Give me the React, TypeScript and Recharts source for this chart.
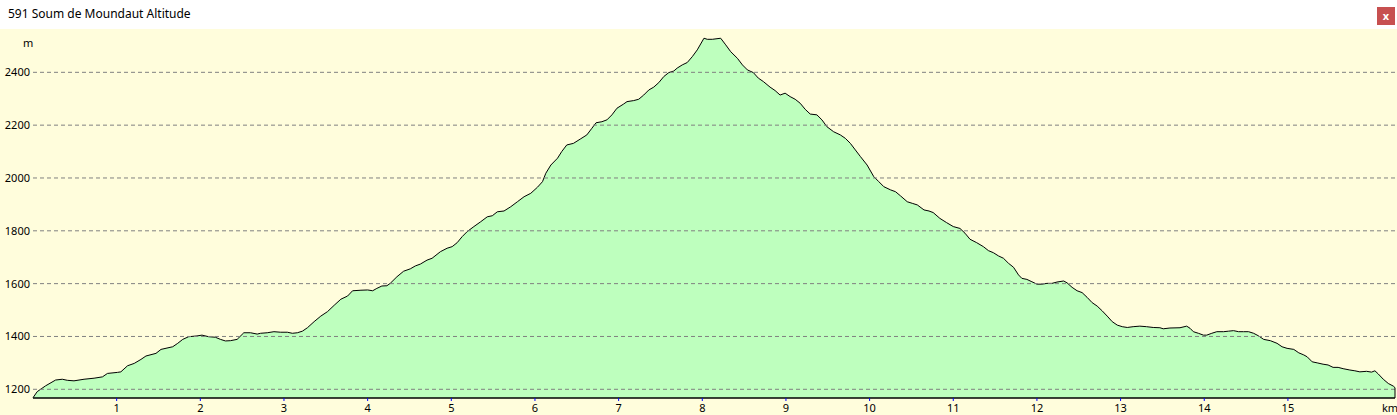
import { AreaChart, Area, XAxis, YAxis, ReferenceLine } from 'recharts';

const title = '591 Soum de Moundaut Altitude';

// distance along the track (km) and altitude (m)
const distanceKm = [
  0.0, 0.05, 0.15, 0.27, 0.35, 0.41, 0.49, 0.61, 0.73, 0.83, 0.89, 1.01, 1.05, 1.13, 1.21, 1.29, 1.35, 1.47, 1.53, 1.67,
  1.73, 1.79, 1.86, 1.96, 2.02, 2.1, 2.18, 2.24, 2.3, 2.36, 2.44, 2.52, 2.6, 2.68, 2.72, 2.8, 2.88, 2.96, 3.04, 3.1,
  3.16, 3.22, 3.28, 3.36, 3.44, 3.52, 3.6, 3.68, 3.76, 3.82, 3.92, 4.0, 4.06, 4.11, 4.17, 4.23, 4.27, 4.35, 4.43, 4.51,
  4.57, 4.63, 4.71, 4.77, 4.87, 4.95, 5.01, 5.07, 5.13, 5.19, 5.27, 5.35, 5.43, 5.49, 5.55, 5.63, 5.71, 5.79, 5.87, 5.95,
  6.03, 6.09, 6.13, 6.19, 6.27, 6.32, 6.38, 6.46, 6.54, 6.62, 6.68, 6.73, 6.8, 6.86, 6.92, 6.98, 7.06, 7.1, 7.18, 7.24,
  7.3, 7.36, 7.42, 7.48, 7.54, 7.6, 7.66, 7.7, 7.76, 7.82, 7.88, 7.94, 8.02, 8.06, 8.12, 8.22, 8.28, 8.34, 8.42, 8.48,
  8.54, 8.61, 8.67, 8.73, 8.81, 8.87, 8.93, 8.99, 9.05, 9.11, 9.17, 9.23, 9.29, 9.37, 9.43, 9.49, 9.57, 9.65, 9.71, 9.77,
  9.83, 9.89, 9.97, 10.05, 10.11, 10.17, 10.25, 10.31, 10.37, 10.45, 10.51, 10.57, 10.65, 10.71, 10.76, 10.84, 10.92, 11.0, 11.08, 11.14,
  11.2, 11.28, 11.36, 11.42, 11.48, 11.54, 11.6, 11.66, 11.72, 11.78, 11.82, 11.88, 11.94, 12.0, 12.06, 12.12, 12.18, 12.24, 12.32, 12.36,
  12.42, 12.48, 12.54, 12.6, 12.66, 12.72, 12.78, 12.84, 12.9, 12.96, 13.02, 13.08, 13.15, 13.23, 13.31, 13.39, 13.47, 13.51, 13.59, 13.71,
  13.79, 13.83, 13.87, 13.93, 13.99, 14.03, 14.09, 14.15, 14.23, 14.29, 14.35, 14.41, 14.47, 14.53, 14.59, 14.65, 14.71, 14.79, 14.87, 14.93,
  14.99, 15.07, 15.13, 15.19, 15.23, 15.29, 15.35, 15.42, 15.48, 15.54, 15.6, 15.66, 15.74, 15.8, 15.86, 15.94, 16.0, 16.04, 16.08, 16.14,
  16.2, 16.26, 16.28,
];

const altitudeM = [
  1168, 1191, 1213, 1235, 1238, 1234, 1232, 1238, 1242, 1247, 1260, 1264, 1266, 1289, 1298, 1313, 1326, 1336, 1351, 1361,
  1374, 1389, 1399, 1402, 1405, 1399, 1397, 1389, 1383, 1384, 1389, 1414, 1414, 1409, 1412, 1414, 1418, 1416, 1416, 1412,
  1414, 1420, 1433, 1456, 1477, 1494, 1518, 1541, 1553, 1573, 1575, 1576, 1573, 1582, 1591, 1592, 1601, 1626, 1647, 1656,
  1667, 1674, 1689, 1696, 1721, 1734, 1740, 1755, 1778, 1797, 1816, 1834, 1853, 1857, 1872, 1875, 1891, 1910, 1929, 1942,
  1965, 1986, 2018, 2049, 2075, 2100, 2125, 2131, 2147, 2163, 2188, 2209, 2213, 2220, 2239, 2264, 2280, 2289, 2293, 2298,
  2314, 2333, 2344, 2361, 2384, 2399, 2405, 2416, 2428, 2437, 2459, 2485, 2529, 2525, 2525, 2529, 2504, 2478, 2453, 2428,
  2409, 2399, 2378, 2365, 2344, 2331, 2314, 2321, 2308, 2298, 2283, 2260, 2242, 2239, 2220, 2194, 2175, 2163, 2150, 2131,
  2106, 2081, 2049, 2005, 1986, 1967, 1955, 1948, 1932, 1910, 1904, 1898, 1879, 1875, 1869, 1847, 1831, 1816, 1809, 1791,
  1768, 1755, 1740, 1725, 1717, 1705, 1696, 1677, 1662, 1633, 1620, 1616, 1607, 1598, 1598, 1601, 1601, 1606, 1610, 1603,
  1586, 1573, 1566, 1548, 1528, 1515, 1497, 1477, 1456, 1443, 1437, 1434, 1437, 1439, 1437, 1434, 1433, 1429, 1432, 1433,
  1439, 1431, 1418, 1412, 1405, 1405, 1412, 1418, 1418, 1420, 1422, 1418, 1418, 1418, 1412, 1402, 1389, 1384, 1374, 1361,
  1355, 1351, 1338, 1330, 1323, 1304, 1300, 1295, 1292, 1283, 1283, 1278, 1273, 1270, 1266, 1268, 1265, 1270, 1258, 1238,
  1222, 1212, 1206,
];

const kmTicks = [1, 2, 3, 4, 5, 6, 7, 8, 9, 10, 11, 12, 13, 14, 15];
const altTicks = [1200, 1400, 1600, 1800, 2000, 2200, 2400];

const totalKm = 16.28;
const altMin = 1167;
const altMax = 2564;

const data = distanceKm.map((km, i) => ({ km, alt: altitudeM[i] }));
const lastAlt = altitudeM[altitudeM.length - 1];

const font = '"Noto Sans", "DejaVu Sans", sans-serif';

export default function App() {
  return (
    <div style={{ position: 'absolute', left: 0, top: 0, width: 1397, height: 415, background: '#fff', fontFamily: font, overflow: 'hidden' }}>
      <div style={{ position: 'absolute', left: 8, top: 6, fontSize: 12, lineHeight: '16px', color: '#000', whiteSpace: 'nowrap' }}>
        {title}
      </div>
      <div
        style={{
          position: 'absolute', left: 1377, top: 7, width: 18, height: 18, background: '#C75050',
          color: '#fff', fontSize: 11, lineHeight: '17px', textAlign: 'center', fontWeight: 'bold',
        }}
      >
        x
      </div>
      <div style={{ position: 'absolute', left: 0, top: 29, width: 1397, height: 386, background: '#FFFDDC' }}>
        <AreaChart width={1397} height={386} data={data} margin={{ top: 0, right: 2, bottom: 0, left: 0 }}>
          <XAxis
            dataKey="km"
            type="number"
            domain={[0, totalKm]}
            ticks={kmTicks}
            interval={0}
            height={17}
            axisLine={{ stroke: '#000', strokeWidth: 1.5 }}
            tickLine={{ stroke: '#0000ff' }}
            tickSize={3}
            tickMargin={3}
            tick={{ fill: '#000', fontSize: 11, fontFamily: font }}
          />
          <YAxis
            type="number"
            domain={[altMin, altMax]}
            ticks={altTicks}
            interval={0}
            width={33}
            axisLine={false}
            tickLine={false}
            tickSize={0}
            tickMargin={3}
            tick={{ fill: '#000', fontSize: 11, fontFamily: font }}
          />
          <Area
            type="linear"
            dataKey="alt"
            stroke="#000"
            strokeWidth={1}
            fill="#BEFFBE"
            fillOpacity={1}
            dot={false}
            activeDot={false}
            isAnimationActive={false}
          />
          {altTicks.map((v) => (
            <ReferenceLine key={v} y={v} stroke="#808080" strokeDasharray="4 3" />
          ))}
          <ReferenceLine
            segment={[{ x: totalKm, y: altMin }, { x: totalKm, y: lastAlt }]}
            stroke="#000"
          />
        </AreaChart>
        <div style={{ position: 'absolute', left: 23, top: 7, fontSize: 11, lineHeight: '14px', color: '#000' }}>m</div>
        <div style={{ position: 'absolute', left: 1382, top: 372, fontSize: 11, lineHeight: '14px', color: '#000' }}>km</div>
      </div>
    </div>
  );
}
